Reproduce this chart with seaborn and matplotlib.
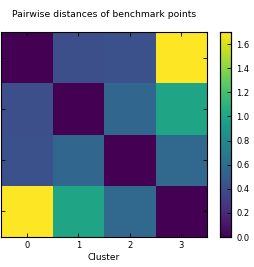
import numpy as np
import pandas as pd
import matplotlib
matplotlib.use("Agg")
import matplotlib.pyplot as plt
import seaborn as sns

clusters = ["0", "1", "2", "3"]
row0 = [0.0, 0.41, 0.42, 1.70]
row1 = [0.41, 0.0, 0.56, 0.99]
row2 = [0.42, 0.56, 0.0, 0.57]
row3 = [1.70, 0.99, 0.57, 0.0]
cbar_ticks = [0.0, 0.2, 0.4, 0.6, 0.8, 1.0, 1.2, 1.4, 1.6]

data = pd.DataFrame([row0, row1, row2, row3], index=clusters, columns=clusters)

plt.rcParams['font.family'] = ['DejaVu Sans']
fig = plt.figure(figsize=(2.54, 2.67), dpi=100)
ax = fig.add_axes([0.004, 0.112, 0.811, 0.768])
cax = fig.add_axes([0.866, 0.112, 0.045, 0.768])

sns.heatmap(data, ax=ax, cbar_ax=cax, cmap="viridis", vmin=0, vmax=1.7,
            cbar_kws={"ticks": cbar_ticks}, square=False)

for s in ax.spines.values():
    s.set_visible(True)
    s.set_color("black")
    s.set_linewidth(0.8)
ax.tick_params(axis="both", direction="in", length=3, width=0.6, labelsize=6,
               top=True, right=True, colors="black", pad=3)
ax.set_yticklabels([])
ax.set_xticklabels(clusters, rotation=0)
ax.set_xlabel("Cluster", fontsize=6.5, labelpad=2)
ax.set_ylabel("")
ax.set_title("Pairwise distances of benchmark points", fontsize=6.7, pad=11)

cax.tick_params(direction="in", length=3, width=0.6, labelsize=6)
cax.set_yticklabels([f"{t:.1f}" for t in cbar_ticks])
for s in cax.spines.values():
    s.set_visible(True)
    s.set_color("black")
    s.set_linewidth(0.8)

fig.savefig("out.png", dpi=100)
